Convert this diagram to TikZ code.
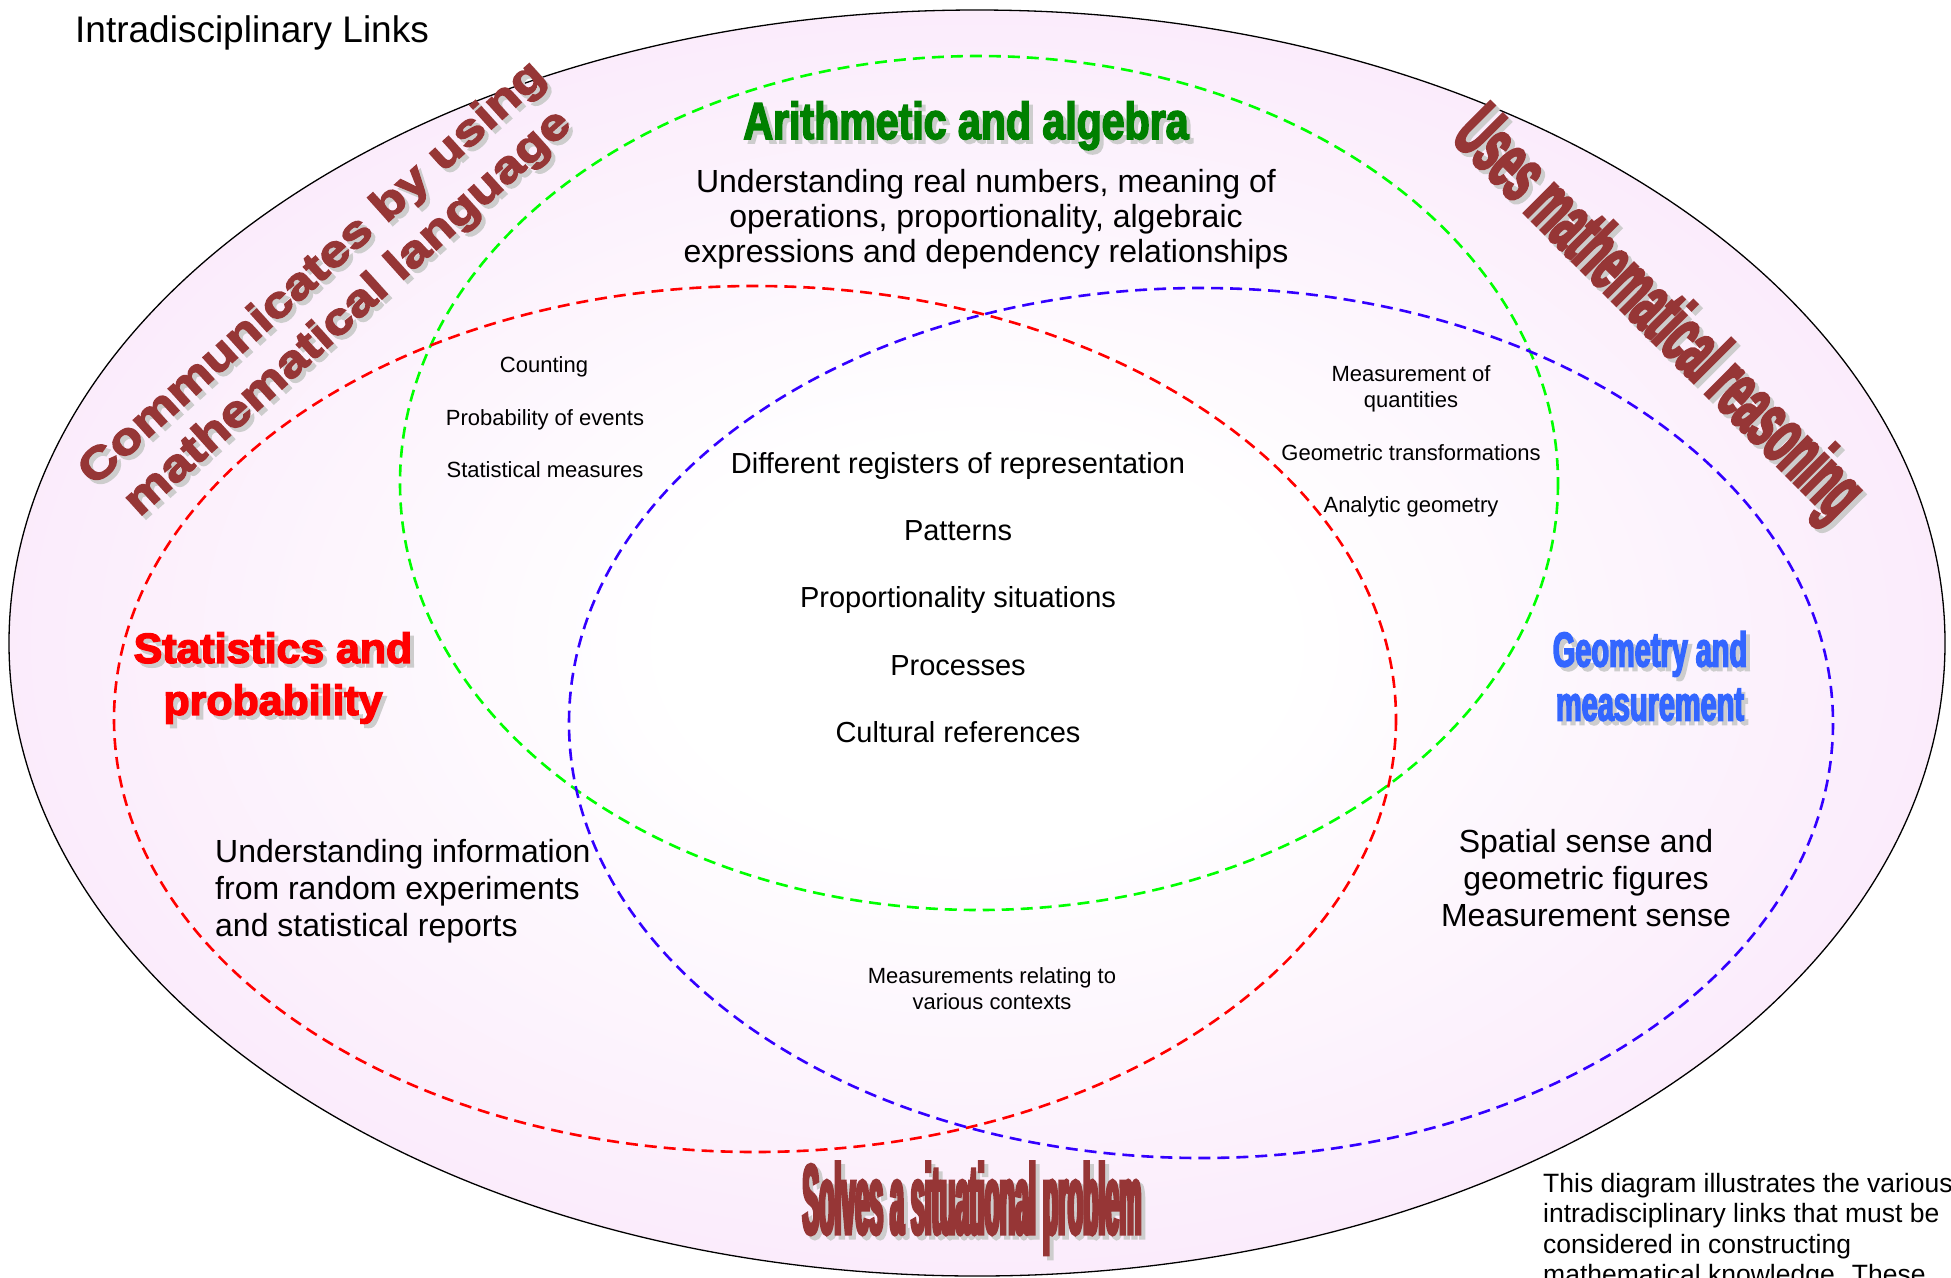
\documentclass[tikz,border=0pt]{standalone}
\usepackage{fontspec}
\setmainfont{Liberation Sans}
\newfontfamily\artwide{Liberation Sans Bold}[FakeBold=3.5,FakeStretch=1.2]
\newfontfamily\artplain{Liberation Sans Bold}[FakeBold=3.5,FakeStretch=1.02]
\newfontfamily\artsemi{Liberation Sans Bold}[FakeBold=3,FakeStretch=0.79]
\newfontfamily\artnarrow{Liberation Sans Bold}[FakeBold=3,FakeStretch=0.59]
\newfontfamily\artslim{Liberation Sans Bold}[FakeBold=3.5,FakeStretch=0.48]
\newfontfamily\artthin{Liberation Sans Bold}[FakeBold=3,FakeStretch=0.25]

\definecolor{skillred}{RGB}{150,54,54}
\definecolor{algebragreen}{RGB}{0,128,0}
\definecolor{geomblue}{RGB}{51,102,255}
\definecolor{dashgreen}{RGB}{0,255,0}
\definecolor{dashred}{RGB}{255,0,0}
\definecolor{dashblue}{RGB}{51,0,255}
\definecolor{blush}{RGB}{249,228,250}
\definecolor{shadowgray}{RGB}{205,205,205}

\pgfdeclareradialshading{blushshade}{\pgfpoint{0bp}{0bp}}{color(0bp)=(white); color(8bp)=(white); color(32bp)=(blush); color(50bp)=(blush)}

% word art: grey copy first, then the coloured text
\newcommand{\wordart}[4]{%
  \node[xshift=4pt,yshift=-4pt,inner sep=0pt,#3,text=shadowgray] (#1-sh) at (#2) {#4};
  \node[inner sep=0pt,#3] (#1) at (#2) {#4};}

\begin{document}
\begin{tikzpicture}[x=1pt,y=-1pt,
    zone/.style={line width=2.6pt,dash pattern=on 12pt off 7pt},
    body/.style={inner sep=0pt,align=center,font=\fontsize{32}{36}\selectfont},
    core/.style={inner sep=0pt,anchor=base,font=\fontsize{29}{34}\selectfont},
    small/.style={inner sep=0pt,align=center,font=\fontsize{22}{26}\selectfont}]
    \useasboundingbox (0,0) rectangle (1951,1277);

    \shade[shading=blushshade] (977,643) ellipse [x radius=968,y radius=633];
    \draw[line width=1.3pt] (977,643) ellipse [x radius=968,y radius=633];
    \draw[zone,dashgreen] (979,483) ellipse [x radius=579,y radius=427];
    \draw[zone,dashred] (755,719) ellipse [x radius=641,y radius=433];
    \draw[zone,dashblue] (1201,723) ellipse [x radius=632,y radius=435];

    \node[anchor=base west,inner sep=0pt,font=\fontsize{37}{44}\selectfont] (title) at (75,42) {Intradisciplinary Links};

    \wordart{arith}{966,139}{anchor=base,font=\artsemi\fontsize{52}{60}\selectfont,text=algebragreen}{Arithmetic and algebra}
    \wordart{stats}{273,678}{align=center,font=\artplain\fontsize{42}{52}\selectfont,text=red}{Statistics and\\probability}
    \wordart{geom}{1650,676}{align=center,font=\artnarrow\fontsize{49}{54}\selectfont,text=geomblue}{Geometry and\\measurement}
    \wordart{talk}{331,294}{rotate=42,align=center,font=\artwide\fontsize{44}{53}\selectfont,text=skillred}{Communicates by using\\mathematical language}
    \wordart{reason}{1656,316}{rotate=-45,font=\artslim\fontsize{80}{90}\selectfont,text=skillred}{Uses mathematical reasoning}
    \wordart{solve}{972,1234}{anchor=base,font=\artthin\fontsize{100}{110}\selectfont,text=skillred}{Solves a situational problem}

    \node[body,anchor=north,font=\fontsize{32}{35}\selectfont] (arithtext) at (986,169) {Understanding real numbers, meaning of\\operations, proportionality, algebraic\\expressions and dependency relationships};
    \node[body,anchor=north west,align=left,font=\fontsize{32}{37}\selectfont] (statstext) at (215,839) {Understanding information\\from random experiments\\and statistical reports};
    \node[body,anchor=north,font=\fontsize{32}{37}\selectfont] (geomtext) at (1586,829) {Spatial sense and\\geometric figures\\Measurement sense};

    \node[core] (registers) at (958,473) {Different registers of representation};
    \node[core] (patterns) at (958,540) {Patterns};
    \node[core] (proport) at (958,607) {Proportionality situations};
    \node[core] (processes) at (958,675) {Processes};
    \node[core] (culture) at (958,742) {Cultural references};

    \node[small,anchor=base] (counting) at (544,372) {Counting};
    \node[small,anchor=base] (events) at (545,425) {Probability of events};
    \node[small,anchor=base] (measures) at (545,477) {Statistical measures};

    \node[small,anchor=north] (quantities) at (1411,365) {Measurement of\\quantities};
    \node[small,anchor=base] (transf) at (1411,460) {Geometric transformations};
    \node[small,anchor=base] (analytic) at (1411,512) {Analytic geometry};

    \node[small,anchor=north] (contexts) at (992,967) {Measurements relating to\\various contexts};

    \node[inner sep=0pt,anchor=north west,align=left,font=\fontsize{26.5}{30.5}\selectfont] (note) at (1543,1173) {This diagram illustrates the various\\intradisciplinary links that must be\\considered in constructing\\mathematical knowledge. These};
\end{tikzpicture}
\end{document}
